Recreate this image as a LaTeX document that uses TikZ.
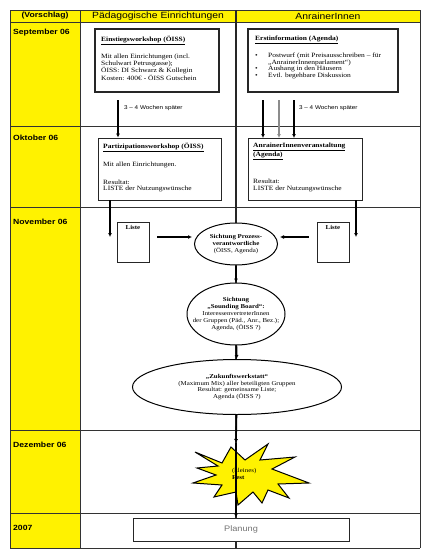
\documentclass[tikz,border=0pt]{standalone}
\usepackage{fontspec}
\setmainfont{Liberation Serif}[FakeStretch=1.15]
\setsansfont{Liberation Sans}[FakeStretch=1.15]
\usetikzlibrary{shapes.geometric,arrows.meta}
\newcommand{\boxfont}{\fontsize{6.5}{6.6}\selectfont}
\newcommand{\ovalfont}{\fontsize{6}{6.8}\selectfont}
\newcommand{\monthfont}{\sffamily\bfseries\fontsize{7.5}{9}\selectfont}
\begin{document}
\begin{tikzpicture}[x=1pt,y=-1pt,
  grid/.style={draw=black!80,line width=0.8pt},
  box/.style={draw=black!85,line width=1.2pt,fill=white,inner sep=0pt},
  boxtext/.style={anchor=north west,align=left,font=\boxfont,inner sep=0pt},
  oval/.style={ellipse,draw=black,line width=1pt,fill=white,inner sep=0pt},
  ovaltext/.style={align=center,font=\ovalfont,inner sep=0pt},
  flow/.style={line width=1.6pt,-{Latex[length=4pt,width=4pt]}},
  month/.style={anchor=north west,font=\monthfont,inner sep=0pt},
  head/.style={font=\sffamily\fontsize{9}{10}\selectfont,inner sep=0pt},
  later/.style={anchor=west,font=\sffamily\fontsize{5.5}{6}\selectfont,inner sep=0pt}]
  \useasboundingbox (0,0) rectangle (421,552);
  \clip (0,0) rectangle (421,552);
  \fill[yellow] (10,10) rectangle (420,22);
  \fill[yellow] (10,22) rectangle (80,548);
  \foreach \y in {10,22,126,207,430,513,548}
    \draw[grid] (10,\y) -- (420,\y);
  \foreach \x in {10,80,420}
    \draw[grid] (\x,10) -- (\x,548);
  \draw[line width=1.2pt,black!85] (236,10) -- (236,548);
  \node[head,font=\monthfont] (vorschlag) at (45,16) {(Vorschlag)};
  \node[head] (paed) at (158,16) {Pädagogische Einrichtungen};
  \node[head] (anrainer) at (328,16) {AnrainerInnen};
  \node[month] (sept) at (13,29) {September 06};
  \node[month] (okt) at (13,135) {Oktober 06};
  \node[month] (nov) at (13,219) {November 06};
  \node[month] (dez) at (13,442) {Dezember 06};
  \node[month] (jahr) at (13,525) {2007};
  % September
  \node[box,minimum width=124,minimum height=63] (einstieg) at (157,60.5) {};
  \node[boxtext] (einstiegtext) at (101,36) {\underline{\textbf{Einstiegsworkshop (ÖISS)}}\\[8pt]
    Mit allen Einrichtungen (incl.\\ Schulwart Petrusgasse);\\
    ÖISS: DI Schwarz \& Kollegin\\ Kosten: 400€ - ÖISS Gutschein};
  \node[box,minimum width=150,minimum height=63] (erstinfo) at (323,60.5) {};
  \node[boxtext] (erstinfotext) at (255,36) {\underline{\textbf{Erstinformation (Agenda)}}\\[8pt]
    \makebox[13pt][l]{•}Postwurf (mit Preisausschreiben – für\\
    \hspace*{13pt}„AnrainerInnenparlament“)\\
    \makebox[13pt][l]{•}Aushang in den Häusern\\
    \makebox[13pt][l]{•}Evtl. begehbare Diskussion};
  % Oktober
  \node[box,line width=0.9pt,minimum width=123,minimum height=62] (partizipation) at (159.5,169) {};
  \node[boxtext] (partizipationtext) at (103,143) {\underline{\textbf{Partizipationsworkshop (ÖISS)}}\\[9pt]
    Mit allen Einrichtungen.\\[11pt] Resultat:\\ LISTE der Nutzungswünsche};
  \node[box,line width=0.9pt,minimum width=114,minimum height=62] (veranstaltung) at (305,169) {};
  \node[boxtext] (veranstaltungtext) at (253,143) {\underline{\textbf{AnrainerInnenveranstaltung}}\\
    \underline{\textbf{(Agenda)}}\\[18pt] Resultat:\\ LISTE der Nutzungswünsche};
  \coordinate (w1) at (118,100);
  \draw[flow,line width=1.3pt] (w1) -- (w1 |- partizipation.north);
  \node[later] (wochen1) at (124,108) {3 – 4 Wochen später};
  \foreach \x/\c in {263/black,279/black!45,294/black}
    \draw[flow,line width=1.3pt,draw=\c] (\x,100) -- (\x,138);
  \node[later] (wochen2) at (299,108) {3 – 4 Wochen später};
  % November
  \coordinate (l1) at (110,237);
  \coordinate (l2) at (356,237);
  \draw[flow,line width=1.3pt] (l1 |- partizipation.south) -- (l1);
  \draw[flow,line width=1.3pt] (l2 |- veranstaltung.south) -- (l2);
  \node[box,line width=0.9pt,minimum width=32,minimum height=40] (listel) at (133,242) {};
  \node[box,line width=0.9pt,minimum width=32,minimum height=40] (lister) at (333,242) {};
  \node[font=\ovalfont\bfseries,inner sep=0pt] (listeltext) at (133,227) {Liste};
  \node[font=\ovalfont\bfseries,inner sep=0pt] (listertext) at (333,227) {Liste};
  \node[oval,minimum width=83,minimum height=42,label={[ovaltext]center:{\textbf{Sichtung Prozess-}\\
    \textbf{verantwortliche}\\(ÖISS, Agenda)}}] (sichtung) at (236,244) {};
  \draw[flow,shorten <=8pt,shorten >=2pt] ([yshift=5pt]listel.east) -- ([yshift=5pt]listel.east -| sichtung.west);
  \draw[flow,shorten <=8pt,shorten >=2pt] ([yshift=5pt]lister.west) -- ([yshift=5pt]lister.west -| sichtung.east);
  \node[oval,minimum width=98,minimum height=62,label={[ovaltext]center:{\textbf{Sichtung}\\
    \textbf{„Sounding Board“:}\\InteressenvertreterInnen\\der Gruppen (Päd., Anr., Bez.);\\
    Agenda, (ÖISS ?)}}] (sounding) at (236,314) {};
  \node[oval,minimum width=209,minimum height=55,label={[ovaltext]center:{\textbf{„Zukunftswerkstatt“}\\
    (Maximum Mix) aller beteiligten Gruppen\\Resultat: gemeinsame Liste;\\Agenda (ÖISS ?)}}] (zukunft) at (237,387) {};
  \draw[flow] (sichtung) -- (sounding);
  \draw[flow] (sounding) -- (zukunft);
  % Dezember und 2007
  \coordinate (festtop) at (236,443);
  \draw[flow] (zukunft) -- (festtop);
  \draw[line width=1pt,fill=yellow] (195,452) -- (222,463) -- (231,447) -- (245,460) -- (268,444)
    -- (260,460) -- (295,457) -- (272,469) -- (309,483) -- (278,484) -- (289,498) -- (268,490)
    -- (262,503) -- (253,492) -- (238,505) -- (236,492) -- (214,497) -- (222,485) -- (193,483)
    -- (216,475) -- (197,468) -- (218,466) -- cycle;
  \node[anchor=west,align=left,font=\ovalfont,inner sep=0pt] (fest) at (232,474) {(kleines)\\\textbf{Fest}};
  \node[box,line width=1pt,minimum width=216,minimum height=23,
    font=\sffamily\fontsize{8}{9}\selectfont,text=black!55] (planung) at (241,529.5) {Planung};
  \draw[flow] (festtop) -- (festtop |- planung.north);
\end{tikzpicture}
\end{document}
